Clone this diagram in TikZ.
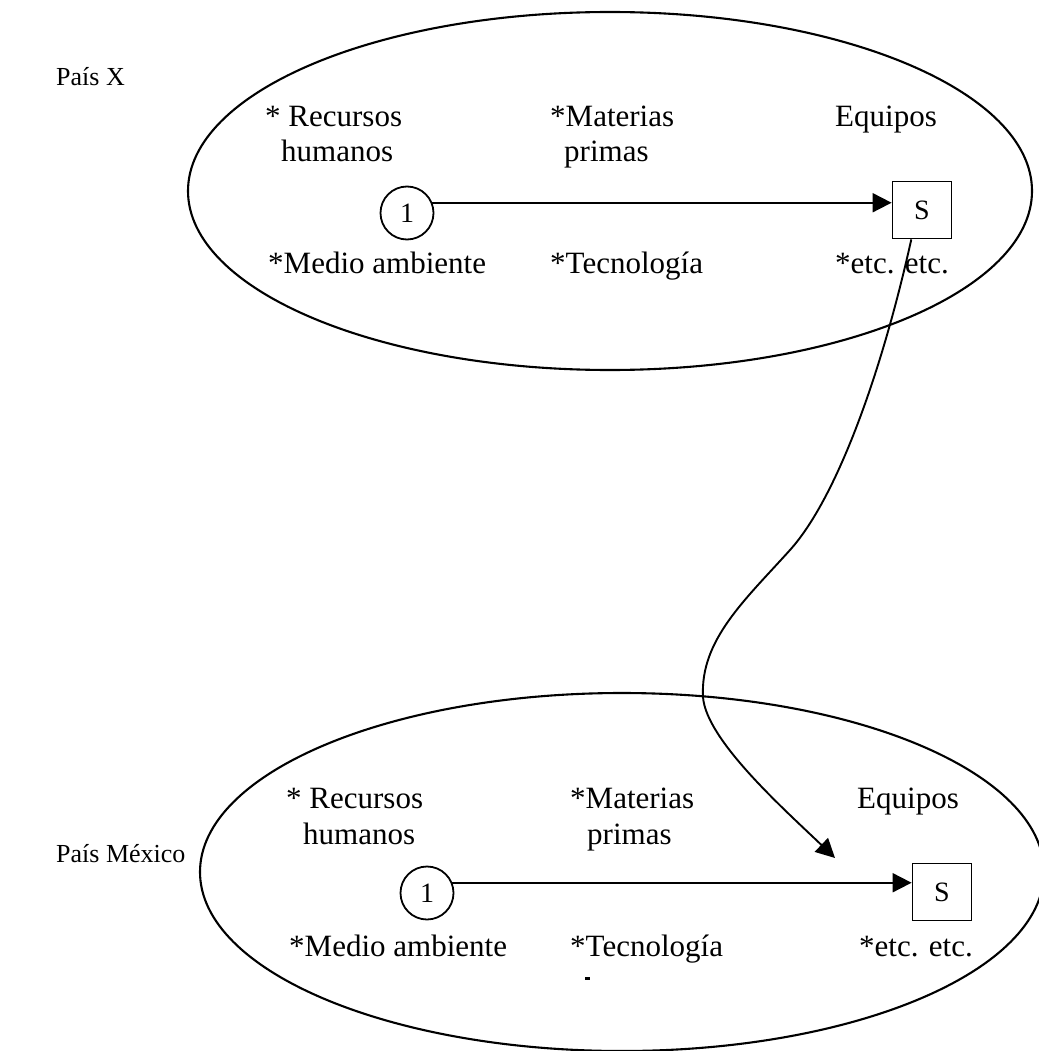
\documentclass[tikz,border=0pt]{standalone}
\usepackage{fontspec}
\setmainfont{Liberation Serif}
\usetikzlibrary{arrows.meta,shapes.geometric}
\begin{document}
\begin{tikzpicture}[x=1pt,y=-1pt,
  region/.style={ellipse, draw, line width=2.1pt, inner sep=0pt, minimum width=844pt, minimum height=358pt},
  lbl/.style={font=\fontsize{31}{36}\selectfont, anchor=base west, inner sep=0pt},
  country/.style={font=\fontsize{26}{30}\selectfont, anchor=base west, inner sep=0pt},
  num/.style={circle, draw, line width=1.8pt, minimum size=53pt, inner sep=0pt, font=\fontsize{28}{30}\selectfont},
  sbox/.style={rectangle, draw, line width=1.8pt, minimum width=59pt, minimum height=57pt, inner sep=0pt, font=\fontsize{28}{30}\selectfont},
  flow/.style={line width=1.9pt, -{Triangle[length=19pt,width=19pt]}},
]
\useasboundingbox (0,0) rectangle (1038,1051);

% upper region
\node[region] (eX) at (610,191) {};
\node[country] (px) at (56,86) {País X};
\node[lbl] (rh1) at (265,127) {* Recursos};
\node[lbl] (hu1) at (281,162) {humanos};
\node[lbl] (mp1) at (550,127) {*Materias};
\node[lbl] (pr1) at (564,162) {primas};
\node[lbl] (eq1) at (835,127) {Equipos};
\node[lbl] (ma1) at (268,273) {*Medio ambiente};
\node[lbl] (te1) at (550,273) {*Tecnología};
\node[lbl] (et1) at (835,273) {*etc. etc.};
\node[num] (c1) at (407,213) {1};
\node[sbox] (s1) at (922,210) {S};
\draw[flow] (c1.22) -- (c1.22 -| s1.west);

% lower region
\node[region] (eM) at (622,872) {};
\node[country] (pm) at (56,862) {País México};
\node[lbl] (rh2) at (286,808) {* Recursos};
\node[lbl] (hu2) at (303,844) {humanos};
\node[lbl] (mp2) at (570,808) {*Materias};
\node[lbl] (pr2) at (587,844) {primas};
\node[lbl] (eq2) at (857,808) {Equipos};
\node[lbl] (ma2) at (289,956) {*Medio ambiente};
\node[lbl] (te2) at (570,956) {*Tecnología};
\node[lbl] (et2) at (859,956) {*etc. etc.};
\node[num] (c2) at (427,893) {1};
\node[sbox] (s2) at (942,892) {S};
\draw[flow] (c2.22) -- (c2.22 -| s2.west);
\fill (585,977) rectangle (590,980);

% transfer connector
\coordinate (tip) at (835,858);
\draw[flow] (s1.-110) .. controls (880,380) and (835,500) .. (790,550)
  .. controls (745,600) and (700,640) .. (703,697)
  .. controls (706,740) and (785,810) .. (tip);
\end{tikzpicture}
\end{document}
